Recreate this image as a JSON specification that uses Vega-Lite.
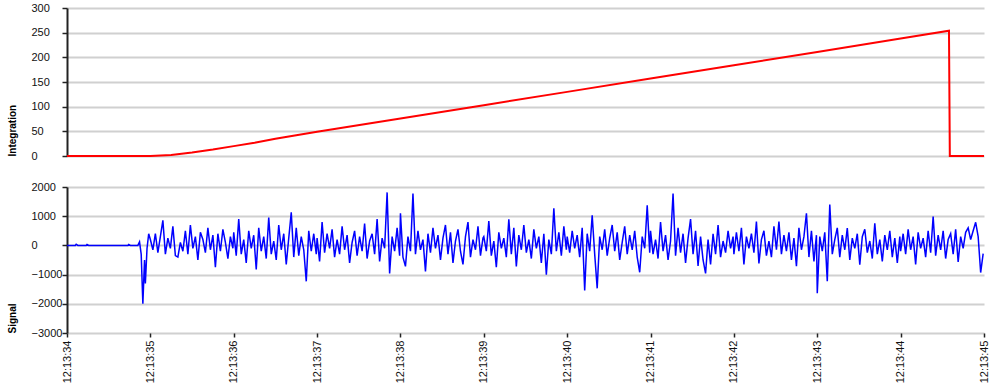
{
  "$schema": "https://vega.github.io/schema/vega-lite/v6.json",
  "padding": {"left": 7, "top": 2, "right": 5, "bottom": 0},
  "background": "#ffffff",
  "bounds": "flush",
  "spacing": 31,
  "config": {
    "font": "Liberation Sans",
    "view": {"stroke": null},
    "axisY": {
      "grid": true, "gridColor": "#d0d0d0", "gridWidth": 2,
      "domainColor": "#222222", "domainWidth": 2,
      "tickColor": "#222222", "tickSize": 5, "tickWidth": 1.5,
      "labelAlign": "left", "labelPadding": 31, "labelFontSize": 11, "labelColor": "#111111",
      "titleFontSize": 10, "titleFontWeight": "bold", "titleColor": "#000000",
      "titleAnchor": "start", "titlePadding": 14
    },
    "axisX": {
      "grid": false, "domain": false, "tickColor": "#222222", "tickSize": 4, "tickWidth": 1.5,
      "labelFontSize": 11, "labelColor": "#111111", "labelPadding": 3
    }
  },
  "vconcat": [
    {
      "width": 917, "height": 148,
      "data": {"values": [
        {"t":34,"v":0},{"t":35,"v":0},{"t":35.25,"v":2},{"t":35.5,"v":7},{"t":35.75,"v":13},{"t":36,"v":20},{"t":36.25,"v":27},{"t":36.5,"v":35},{"t":36.75,"v":42},{"t":37,"v":49},{"t":38,"v":76},{"t":39,"v":103},{"t":40,"v":130},{"t":41,"v":157},{"t":42,"v":184},{"t":43,"v":211},{"t":44,"v":238},{"t":44.58,"v":254},{"t":44.59,"v":0},{"t":45,"v":0}
      ]},
      "mark": {"type": "line", "color": "#ff0000", "strokeWidth": 2},
      "encoding": {
        "x": {"field": "t", "type": "quantitative", "scale": {"domain": [34, 45], "nice": false, "zero": false}, "axis": null},
        "y": {"field": "v", "type": "quantitative", "scale": {"domain": [0, 300], "nice": false},
              "axis": {"values": [0, 50, 100, 150, 200, 250, 300], "title": "Integration"}}
      }
    },
    {
      "width": 917, "height": 146,
      "data": {"values": [
        {"t":34.00,"v":0},{"t":34.10,"v":0},{"t":34.11,"v":40},{"t":34.13,"v":0},{"t":34.23,"v":0},{"t":34.24,"v":30},{"t":34.26,"v":0},{"t":34.73,"v":0},{"t":34.74,"v":30},{"t":34.76,"v":0},{"t":34.85,"v":0},{"t":34.87,"v":120},{"t":34.89,"v":-300},{"t":34.91,"v":-2000},{"t":34.93,"v":-500},{"t":34.94,"v":-1300},{"t":34.96,"v":-100},{"t":34.98,"v":400},
        {"t":35.00,"v":200},{"t":35.03,"v":-150},{"t":35.06,"v":400},{"t":35.09,"v":-250},{"t":35.12,"v":300},{"t":35.15,"v":860},{"t":35.18,"v":-300},{"t":35.21,"v":250},{"t":35.24,"v":-100},{"t":35.27,"v":650},{"t":35.30,"v":-350},{"t":35.33,"v":-400},{"t":35.36,"v":100},{"t":35.39,"v":-200},{"t":35.42,"v":500},{"t":35.45,"v":-300},{"t":35.48,"v":700},{"t":35.51,"v":-100},{"t":35.54,"v":300},{"t":35.57,"v":-500},{"t":35.60,"v":450},{"t":35.63,"v":200},{"t":35.66,"v":-250},{"t":35.69,"v":600},{"t":35.72,"v":-150},{"t":35.75,"v":350},{"t":35.78,"v":-750},{"t":35.81,"v":400},{"t":35.84,"v":-200},{"t":35.87,"v":550},{"t":35.90,"v":100},{"t":35.93,"v":-450},{"t":35.96,"v":300},{"t":35.99,"v":-100},
        {"t":36.00,"v":450},{"t":36.03,"v":-350},{"t":36.06,"v":900},{"t":36.09,"v":-300},{"t":36.12,"v":200},{"t":36.15,"v":-600},{"t":36.18,"v":500},{"t":36.21,"v":-100},{"t":36.24,"v":350},{"t":36.27,"v":-820},{"t":36.30,"v":600},{"t":36.33,"v":-200},{"t":36.36,"v":300},{"t":36.39,"v":-450},{"t":36.42,"v":950},{"t":36.45,"v":-300},{"t":36.48,"v":150},{"t":36.51,"v":-500},{"t":36.54,"v":700},{"t":36.57,"v":-150},{"t":36.60,"v":400},{"t":36.63,"v":-650},{"t":36.66,"v":250},{"t":36.69,"v":1130},{"t":36.72,"v":-400},{"t":36.75,"v":600},{"t":36.78,"v":-350},{"t":36.81,"v":300},{"t":36.84,"v":-150},{"t":36.87,"v":-1230},{"t":36.90,"v":500},{"t":36.93,"v":-200},{"t":36.96,"v":400},{"t":36.99,"v":-300},
        {"t":37.00,"v":250},{"t":37.03,"v":-550},{"t":37.06,"v":800},{"t":37.09,"v":-250},{"t":37.12,"v":400},{"t":37.15,"v":-100},{"t":37.18,"v":550},{"t":37.21,"v":-400},{"t":37.24,"v":200},{"t":37.27,"v":-300},{"t":37.30,"v":650},{"t":37.33,"v":-150},{"t":37.36,"v":350},{"t":37.39,"v":-600},{"t":37.42,"v":100},{"t":37.45,"v":500},{"t":37.48,"v":-350},{"t":37.51,"v":300},{"t":37.54,"v":-200},{"t":37.57,"v":750},{"t":37.60,"v":-450},{"t":37.63,"v":150},{"t":37.66,"v":400},{"t":37.69,"v":-300},{"t":37.72,"v":900},{"t":37.75,"v":-550},{"t":37.78,"v":250},{"t":37.81,"v":-100},{"t":37.84,"v":1815},{"t":37.87,"v":-960},{"t":37.90,"v":300},{"t":37.93,"v":-200},{"t":37.96,"v":600},{"t":37.99,"v":-350},
        {"t":38.00,"v":1100},{"t":38.03,"v":-400},{"t":38.06,"v":-720},{"t":38.09,"v":300},{"t":38.12,"v":-200},{"t":38.15,"v":1780},{"t":38.18,"v":-300},{"t":38.21,"v":500},{"t":38.24,"v":-150},{"t":38.27,"v":200},{"t":38.30,"v":-890},{"t":38.33,"v":400},{"t":38.36,"v":-250},{"t":38.39,"v":600},{"t":38.42,"v":-100},{"t":38.45,"v":350},{"t":38.48,"v":-500},{"t":38.51,"v":250},{"t":38.54,"v":700},{"t":38.57,"v":-300},{"t":38.60,"v":450},{"t":38.63,"v":-600},{"t":38.66,"v":150},{"t":38.69,"v":550},{"t":38.72,"v":-200},{"t":38.75,"v":-650},{"t":38.78,"v":300},{"t":38.81,"v":800},{"t":38.84,"v":-400},{"t":38.87,"v":200},{"t":38.90,"v":-150},{"t":38.93,"v":650},{"t":38.96,"v":-350},{"t":38.99,"v":250},
        {"t":39.00,"v":300},{"t":39.03,"v":-200},{"t":39.06,"v":830},{"t":39.09,"v":-350},{"t":39.12,"v":150},{"t":39.15,"v":-750},{"t":39.18,"v":450},{"t":39.21,"v":-100},{"t":39.24,"v":250},{"t":39.27,"v":-400},{"t":39.30,"v":890},{"t":39.33,"v":-300},{"t":39.36,"v":600},{"t":39.39,"v":-720},{"t":39.42,"v":350},{"t":39.45,"v":-150},{"t":39.48,"v":700},{"t":39.51,"v":-250},{"t":39.54,"v":200},{"t":39.57,"v":-450},{"t":39.60,"v":550},{"t":39.63,"v":-100},{"t":39.66,"v":300},{"t":39.69,"v":-600},{"t":39.72,"v":400},{"t":39.75,"v":-1000},{"t":39.78,"v":200},{"t":39.81,"v":-300},{"t":39.84,"v":1270},{"t":39.87,"v":-200},{"t":39.90,"v":450},{"t":39.93,"v":-350},{"t":39.96,"v":650},{"t":39.99,"v":-150},
        {"t":40.00,"v":300},{"t":40.03,"v":-250},{"t":40.06,"v":500},{"t":40.09,"v":-100},{"t":40.12,"v":350},{"t":40.15,"v":-400},{"t":40.18,"v":600},{"t":40.21,"v":-1540},{"t":40.24,"v":400},{"t":40.27,"v":-200},{"t":40.30,"v":1030},{"t":40.33,"v":-300},{"t":40.36,"v":-1470},{"t":40.39,"v":300},{"t":40.42,"v":-150},{"t":40.45,"v":550},{"t":40.48,"v":-350},{"t":40.51,"v":250},{"t":40.54,"v":700},{"t":40.57,"v":-200},{"t":40.60,"v":450},{"t":40.63,"v":-500},{"t":40.66,"v":100},{"t":40.69,"v":650},{"t":40.72,"v":-300},{"t":40.75,"v":350},{"t":40.78,"v":-150},{"t":40.81,"v":500},{"t":40.84,"v":-400},{"t":40.87,"v":-920},{"t":40.90,"v":300},{"t":40.93,"v":-100},{"t":40.96,"v":1370},{"t":40.99,"v":-250},
        {"t":41.00,"v":500},{"t":41.03,"v":-300},{"t":41.06,"v":200},{"t":41.09,"v":-450},{"t":41.12,"v":800},{"t":41.15,"v":-200},{"t":41.18,"v":350},{"t":41.21,"v":-500},{"t":41.24,"v":150},{"t":41.27,"v":1780},{"t":41.30,"v":-350},{"t":41.33,"v":600},{"t":41.36,"v":-250},{"t":41.39,"v":400},{"t":41.42,"v":-600},{"t":41.45,"v":250},{"t":41.48,"v":900},{"t":41.51,"v":-300},{"t":41.54,"v":500},{"t":41.57,"v":-700},{"t":41.60,"v":300},{"t":41.63,"v":-500},{"t":41.66,"v":-960},{"t":41.69,"v":200},{"t":41.72,"v":-650},{"t":41.75,"v":400},{"t":41.78,"v":-300},{"t":41.81,"v":700},{"t":41.84,"v":-400},{"t":41.87,"v":150},{"t":41.90,"v":-250},{"t":41.93,"v":500},{"t":41.96,"v":-100},{"t":41.99,"v":300},
        {"t":42.00,"v":-300},{"t":42.03,"v":450},{"t":42.06,"v":-200},{"t":42.09,"v":600},{"t":42.12,"v":-650},{"t":42.15,"v":300},{"t":42.18,"v":-100},{"t":42.21,"v":400},{"t":42.24,"v":-250},{"t":42.27,"v":820},{"t":42.30,"v":-620},{"t":42.33,"v":200},{"t":42.36,"v":500},{"t":42.39,"v":-350},{"t":42.42,"v":150},{"t":42.45,"v":-400},{"t":42.48,"v":650},{"t":42.51,"v":-150},{"t":42.54,"v":820},{"t":42.57,"v":-300},{"t":42.60,"v":350},{"t":42.63,"v":-200},{"t":42.66,"v":450},{"t":42.69,"v":-500},{"t":42.72,"v":250},{"t":42.75,"v":-710},{"t":42.78,"v":600},{"t":42.81,"v":-150},{"t":42.84,"v":300},{"t":42.87,"v":1100},{"t":42.90,"v":-400},{"t":42.93,"v":500},{"t":42.96,"v":-550},{"t":42.99,"v":350},
        {"t":43.00,"v":-1640},{"t":43.03,"v":300},{"t":43.06,"v":-200},{"t":43.09,"v":450},{"t":43.12,"v":-1230},{"t":43.15,"v":1400},{"t":43.18,"v":-300},{"t":43.21,"v":200},{"t":43.24,"v":600},{"t":43.27,"v":-400},{"t":43.30,"v":350},{"t":43.33,"v":-150},{"t":43.36,"v":590},{"t":43.39,"v":-500},{"t":43.42,"v":250},{"t":43.45,"v":-100},{"t":43.48,"v":400},{"t":43.51,"v":-660},{"t":43.54,"v":300},{"t":43.57,"v":550},{"t":43.60,"v":-250},{"t":43.63,"v":150},{"t":43.66,"v":-450},{"t":43.69,"v":760},{"t":43.72,"v":-300},{"t":43.75,"v":200},{"t":43.78,"v":-550},{"t":43.81,"v":350},{"t":43.84,"v":-150},{"t":43.87,"v":500},{"t":43.90,"v":-400},{"t":43.93,"v":250},{"t":43.96,"v":-600},{"t":43.99,"v":300},
        {"t":44.00,"v":-200},{"t":44.03,"v":400},{"t":44.06,"v":-300},{"t":44.09,"v":550},{"t":44.12,"v":-150},{"t":44.15,"v":300},{"t":44.18,"v":-650},{"t":44.21,"v":450},{"t":44.24,"v":-100},{"t":44.27,"v":250},{"t":44.30,"v":-400},{"t":44.33,"v":500},{"t":44.36,"v":-250},{"t":44.39,"v":990},{"t":44.42,"v":-350},{"t":44.45,"v":350},{"t":44.48,"v":-150},{"t":44.51,"v":500},{"t":44.54,"v":-450},{"t":44.57,"v":200},{"t":44.60,"v":400},{"t":44.63,"v":-300},{"t":44.66,"v":550},{"t":44.69,"v":-570},{"t":44.72,"v":300},{"t":44.75,"v":-100},{"t":44.78,"v":450},{"t":44.81,"v":600},{"t":44.84,"v":200},{"t":44.87,"v":500},{"t":44.90,"v":790},{"t":44.93,"v":300},{"t":44.96,"v":-930},{"t":44.99,"v":-280}
      ]},
      "mark": {"type": "line", "color": "#0000ff", "strokeWidth": 1.5},
      "encoding": {
        "x": {"field": "t", "type": "quantitative", "scale": {"domain": [34, 45], "nice": false, "zero": false},
              "axis": {"values": [34, 35, 36, 37, 38, 39, 40, 41, 42, 43, 44, 45], "labelAngle": -90, "labelExpr": "'12:13:' + datum.value", "title": null}},
        "y": {"field": "v", "type": "quantitative", "scale": {"domain": [-3000, 2000], "nice": false},
              "axis": {"values": [-3000, -2000, -1000, 0, 1000, 2000], "format": "d", "title": "Signal"}}
      }
    }
  ]
}
